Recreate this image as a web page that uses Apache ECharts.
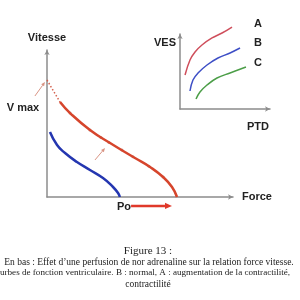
<!DOCTYPE html>
<html>
<head>
<meta charset="utf-8">
<script src="https://cdn.jsdelivr.net/npm/echarts@6/dist/echarts.min.js"></script>
<style>
  html, body { margin: 0; padding: 0; background: #fff; }
  #chart { width: 300px; height: 300px; }
</style>
</head>
<body>
<div id="chart"></div>
<script>
// relation force / vitesse (axes 0..100)
const vmaxDotted = [[0, 79.6], [7.0, 64.6]];
const norAdrenaline = [
  [7.0, 64.6], [12.4, 57.1], [23.1, 45.6], [33.9, 36.7], [47.3, 26.5],
  [55.4, 20.4], [62.4, 13.6], [67.2, 6.8], [69.9, 0]
];
const normal = [
  [1.6, 44.2], [5.4, 35.4], [9.7, 29.9], [16.1, 23.8],
  [23.1, 18.4], [30.1, 12.9], [35.5, 6.8], [38.2, 2.7], [39.2, 0]
];
// petites marques grises sur la courbe rouge
const curveTicks = [
  [12.4, 57.1], [23.1, 45.6], [29.0, 40.4], [33.3, 37.1],
  [40.3, 32.0], [46.2, 27.3], [54.8, 20.9], [62.4, 13.6]
];

// courbes de fonction ventriculaire (VES / PTD)
const curveA = [[5.6, 45.3], [11.1, 65.3], [16.7, 76.0], [24.4, 85.3], [35.6, 94.7], [46.7, 101.3], [57.8, 109.3]];
const curveB = [[11.1, 24.0], [14.4, 38.7], [20.0, 48.0], [30.0, 58.7], [42.2, 68.0], [55.6, 74.7], [66.7, 81.3]];
const curveC = [[17.8, 13.3], [22.2, 22.7], [30.0, 32.0], [41.1, 41.3], [55.6, 48.0], [73.3, 56.0]];
const curveNames = ['A', 'B', 'C'];

const captionLines = [
  'Figure 13 :',
  'En bas : Effet d\u2019une perfusion de nor adrenaline sur la relation force vitesse.',
  'urbes de fonction ventriculaire. B : normal, A : augmentation de la contractilité,',
  'contractilité'
];

const chart = echarts.init(document.getElementById('chart'));
const labelFont = 'bold 11px "Liberation Sans", Arial, sans-serif';
const serif = '"Liberation Serif", "Times New Roman", serif';

const axisLine = {
  show: true,
  symbol: ['none', 'arrow'],
  symbolSize: [4, 5],
  lineStyle: { color: '#8c8c8c', width: 1.5 }
};
const bareAxis = {
  type: 'value', min: 0, max: 100,
  axisLine: axisLine,
  axisTick: { show: false },
  axisLabel: { show: false },
  splitLine: { show: false }
};
const nameStyle = { fontFamily: '"Liberation Sans", Arial, sans-serif', fontWeight: 'bold', fontSize: 11, color: '#222' };

chart.setOption({
  animation: false,
  grid: [
    { left: 47, top: 50, width: 186, height: 147 },
    { left: 180, top: 34, width: 90, height: 75 }
  ],
  xAxis: [
    Object.assign({}, bareAxis, { gridIndex: 0, name: 'Force', nameLocation: 'end', nameGap: 9, nameTextStyle: nameStyle }),
    Object.assign({}, bareAxis, { gridIndex: 1 })
  ],
  yAxis: [
    Object.assign({}, bareAxis, { gridIndex: 0, name: 'Vitesse', nameLocation: 'end', nameGap: 12,
      nameTextStyle: Object.assign({ align: 'center', verticalAlign: 'middle' }, nameStyle) }),
    Object.assign({}, bareAxis, { gridIndex: 1 })
  ],
  series: [
    {
      type: 'line', data: vmaxDotted, symbol: 'none', clip: false,
      lineStyle: { color: '#d4604c', width: 1.5, type: [1.5, 2] }
    },
    {
      type: 'line', data: norAdrenaline, smooth: 0.5, symbol: 'none', clip: false,
      lineStyle: { color: '#d6452c', width: 2.5 }
    },
    {
      type: 'scatter', data: curveTicks, symbolSize: 3,
      itemStyle: { color: '#b89088' }
    },
    {
      type: 'line', data: normal, smooth: 0.5, symbol: 'none', clip: false,
      lineStyle: { color: '#2436b0', width: 2.5 }
    },
    {
      type: 'line', xAxisIndex: 1, yAxisIndex: 1, data: curveA, smooth: 0.4, symbol: 'none', clip: false,
      lineStyle: { color: '#cf4f5c', width: 1.5 }
    },
    {
      type: 'line', xAxisIndex: 1, yAxisIndex: 1, data: curveB, smooth: 0.4, symbol: 'none', clip: false,
      lineStyle: { color: '#3e4fc6', width: 1.5 }
    },
    {
      type: 'line', xAxisIndex: 1, yAxisIndex: 1, data: curveC, smooth: 0.4, symbol: 'none', clip: false,
      lineStyle: { color: '#4c9e48', width: 1.5 }
    }
  ]
});

// fleches d'annotation, placees par les echelles du graphique
function arrow(from, to, color, width, head) {
  const p0 = chart.convertToPixel({ gridIndex: 0 }, from);
  const p1 = chart.convertToPixel({ gridIndex: 0 }, to);
  const a = Math.atan2(p1[1] - p0[1], p1[0] - p0[0]);
  const tip = [p1[0], p1[1]];
  const back = [p1[0] - head * Math.cos(a), p1[1] - head * Math.sin(a)];
  const w = head * 0.45;
  return [
    { type: 'line', shape: { x1: p0[0], y1: p0[1], x2: back[0], y2: back[1] }, style: { stroke: color, lineWidth: width } },
    { type: 'polygon', shape: { points: [tip,
      [back[0] + w * Math.sin(a), back[1] - w * Math.cos(a)],
      [back[0] - w * Math.sin(a), back[1] + w * Math.cos(a)]] }, style: { fill: color } }
  ];
}

function text(str, x, y, font, align) {
  return { type: 'text', x: x, y: y, style: { text: str, font: font, fill: '#222', align: align || 'center', verticalAlign: 'middle' } };
}

const graphics = [].concat(
  arrow([-6.5, 68.7], [-1.1, 78.2], '#d99484', 1, 4),
  arrow([25.8, 25.2], [31.2, 33.3], '#d99484', 1, 4),
  arrow([45.2, -6.1], [67.2, -6.1], '#e0392a', 2.5, 7),
  [
    text('V max', 23, 108, labelFont),
    text('Po', 124, 207, labelFont),
    text('VES', 176, 43, labelFont, 'right'),
    text('PTD', 269, 127, labelFont, 'right'),
    text(curveNames[0], 258, 24, labelFont),
    text(curveNames[1], 258, 43, labelFont),
    text(curveNames[2], 258, 63, labelFont),
    text(captionLines[0], 148, 251, '11px ' + serif),
    text(captionLines[1], 149, 262, '9.5px ' + serif),
    text(captionLines[2], 0, 273, '9.1px ' + serif, 'left'),
    text(captionLines[3], 148, 284, '9.5px ' + serif)
  ]
);

chart.setOption({ graphic: graphics });
</script>
</body>
</html>
